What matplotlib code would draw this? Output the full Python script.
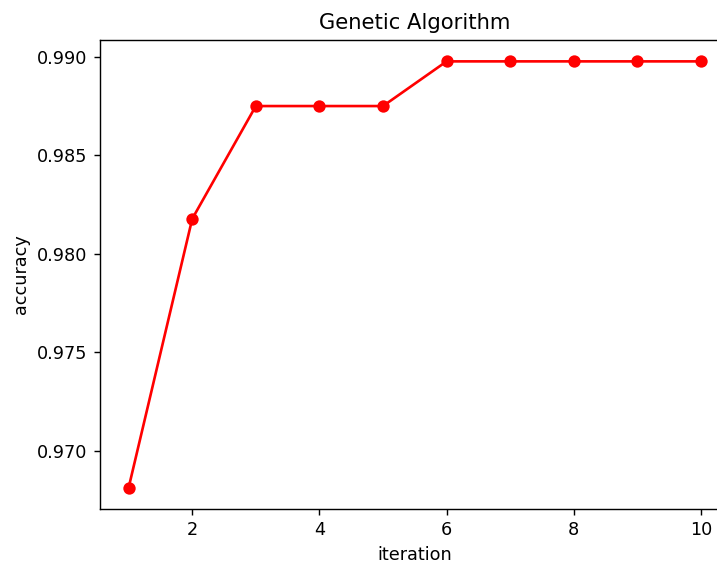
import matplotlib
matplotlib.use("Agg")
import matplotlib.pyplot as plt

# Accuracy per iteration of the genetic algorithm
iterations = [1, 2, 3, 4, 5, 6, 7, 8, 9, 10]
accuracy = [0.96812, 0.98178, 0.98751, 0.98751, 0.98751,
            0.98978, 0.98978, 0.98978, 0.98978, 0.98978]

fig = plt.figure(figsize=(717 / 127, 565 / 127), dpi=127)
# axes run slightly past the right edge, like the cropped original
ax = fig.add_axes([0.1395, 0.0991, 0.878, 0.830])

ax.plot(iterations, accuracy, 'ro-')
ax.set_title("Genetic Algorithm")
ax.set_xlabel("iteration")
ax.set_ylabel("accuracy")

fig.savefig("out.png", dpi=127)
